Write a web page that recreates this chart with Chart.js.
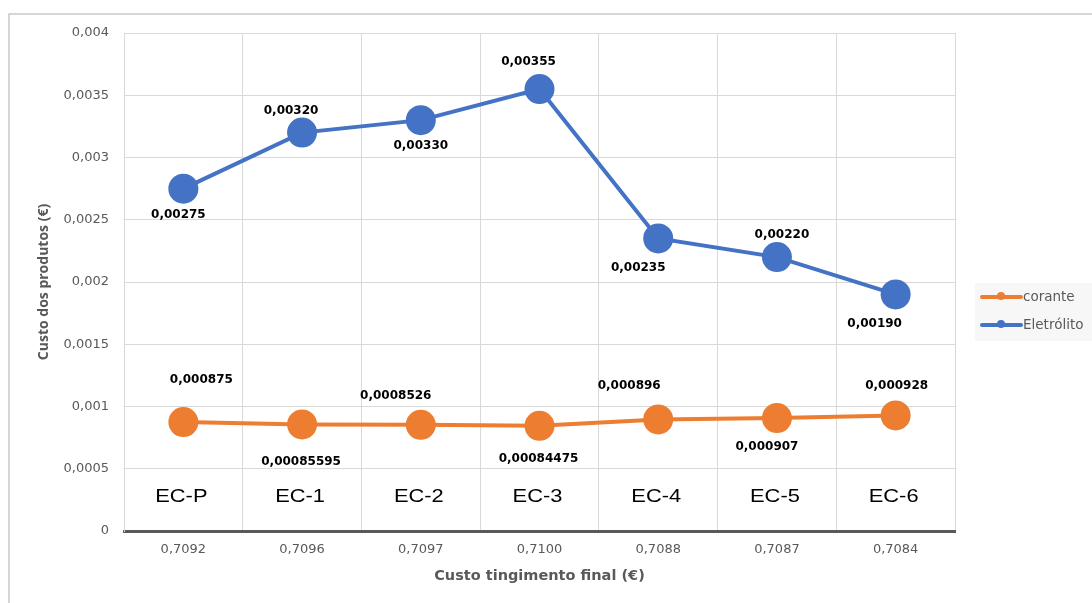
<!DOCTYPE html>
<html><head><meta charset="utf-8">
<script src="https://cdn.jsdelivr.net/npm/chart.js@4.4.0/dist/chart.umd.min.js"></script>
<style>html,body{margin:0;padding:0;background:#fff;overflow:hidden}#wrap{width:1092px;height:603px;position:relative}</style>
</head><body><div id="wrap"><canvas id="c" width="1092" height="603"></canvas></div>
<script>
// ---- data ----
const costLabels = ['0,7092','0,7096','0,7097','0,7100','0,7088','0,7087','0,7084'];
const groupNames = ['EC-P','EC-1','EC-2','EC-3','EC-4','EC-5','EC-6'];
const corante = [0.000875, 0.00085595, 0.0008526, 0.00084475, 0.000896, 0.000907, 0.000928];
const eletrolito = [0.00275, 0.00320, 0.00330, 0.00355, 0.00235, 0.00220, 0.00190];
const coranteText = ['0,000875','0,00085595','0,0008526','0,00084475','0,000896','0,000907','0,000928'];
const eletrolitoText = ['0,00275','0,00320','0,00330','0,00355','0,00235','0,00220','0,00190'];
const yMin = 0, yMax = 0.004, yStep = 0.0005;

// ---- label placement (style) ----
const labelOffsets = [
  [[18,-42],[-1,37],[-25,-29],[-1,33],[-29,-34],[-10,29],[1,-30]],
  [[-5,26],[-11,-22],[0,26],[-11,-27],[-20,29],[5,-22],[-21,29]]
];
const labelTexts = [coranteText, eletrolitoText];
const FONT = "'DejaVu Sans', 'Open Sans', sans-serif";
const TFONT = "'Open Sans', 'DejaVu Sans', sans-serif";
const GREY = '#595959';

const framePlugin = {
  id: 'frame',
  beforeDraw(chart) {
    const ctx = chart.ctx;
    ctx.save();
    ctx.strokeStyle = '#c9c9c9';
    ctx.lineWidth = 1.5;
    ctx.beginPath();
    ctx.moveTo(9, 603); ctx.lineTo(9, 14); ctx.lineTo(1092, 14);
    ctx.stroke();
    ctx.restore();
  }
};

const groupPlugin = {
  id: 'groups',
  afterDatasetsDraw(chart) {
    const ctx = chart.ctx, xs = chart.scales.x, ys = chart.scales.y;
    ctx.save();
    ctx.fillStyle = '#000';
    ctx.textAlign = 'center';
    ctx.textBaseline = 'middle';
    ctx.font = "19px 'Liberation Sans', Arial, sans-serif";
    groupNames.forEach((g, i) => {
      ctx.save();
      ctx.translate(xs.getPixelForValue(i) - 2, ys.bottom - 34);
      ctx.scale(1.15, 1);
      ctx.fillText(g, 0, 0);
      ctx.restore();
    });
    // data labels
    ctx.font = "bold 12px " + FONT;
    chart.data.datasets.forEach((ds, di) => {
      const meta = chart.getDatasetMeta(di);
      meta.data.forEach((pt, i) => {
        const o = labelOffsets[di][i];
        ctx.fillText(labelTexts[di][i], pt.x + o[0], pt.y + o[1]);
      });
    });
    ctx.restore();
  }
};

const legendPlugin = {
  id: 'customLegend',
  afterDraw(chart) {
    const ctx = chart.ctx;
    ctx.save();
    ctx.fillStyle = '#f7f7f7';
    ctx.fillRect(975, 283, 117, 58);
    chart.data.datasets.forEach((ds, i) => {
      const y = 297 + i * 28;
      ctx.strokeStyle = ds.borderColor;
      ctx.lineWidth = 4;
      ctx.lineCap = 'round';
      ctx.beginPath(); ctx.moveTo(982, y); ctx.lineTo(1021, y); ctx.stroke();
      ctx.fillStyle = ds.borderColor;
      ctx.beginPath(); ctx.arc(1001, y - 1, 4, 0, Math.PI * 2); ctx.fill();
      ctx.fillStyle = GREY;
      ctx.font = "13.5px " + FONT;
      ctx.textAlign = 'left';
      ctx.textBaseline = 'middle';
      ctx.fillText(ds.label, 1023, y);
    });
    ctx.restore();
  }
};

new Chart(document.getElementById('c'), {
  type: 'line',
  data: {
    labels: costLabels,
    datasets: [
      { label: 'corante', data: corante, borderColor: '#ed7d31', backgroundColor: '#ed7d31',
        borderWidth: 4, pointRadius: 15, pointHoverRadius: 15, pointBorderWidth: 0, tension: 0 },
      { label: 'Eletrólito', data: eletrolito, borderColor: '#4472c4', backgroundColor: '#4472c4',
        borderWidth: 4, pointRadius: 15, pointHoverRadius: 15, pointBorderWidth: 0, tension: 0 }
    ]
  },
  options: {
    responsive: false,
    animation: false,
    devicePixelRatio: 1,
    layout: { padding: { left: 32, top: 33, right: 137, bottom: 14 } },
    plugins: { legend: { display: false }, tooltip: { enabled: false } },
    scales: {
      x: {
        offset: true,
        grid: { offset: true, color: '#d9d9d9', drawTicks: false },
        border: { color: GREY, width: 3 },
        ticks: { color: GREY, font: { family: FONT, size: 13 }, padding: 11, maxRotation: 0, autoSkip: false },
        title: { display: true, text: 'Custo tingimento final (€)', color: GREY,
          font: { family: FONT, size: 14.5, weight: 'bold' }, padding: { top: 4, bottom: 4 } },
        afterFit(s) { s.height = 58; }
      },
      y: {
        min: yMin, max: yMax,
        grid: { color: '#d9d9d9', drawTicks: false },
        border: { color: '#d9d9d9', width: 1 },
        ticks: { stepSize: yStep, color: GREY, font: { family: FONT, size: 13 }, padding: 15,
          callback: v => v === 0 ? '0' : (+v).toFixed(4).replace(/0+$/, '').replace('.', ',') },
        title: { display: true, text: 'Custo dos produtos (€)', color: GREY,
          font: { family: TFONT, size: 14, weight: 'bold' }, padding: { top: 4, bottom: 4 } },
        afterFit(s) { s.width = 92; }
      }
    }
  },
  plugins: [framePlugin, groupPlugin, legendPlugin]
});
</script></body></html>
